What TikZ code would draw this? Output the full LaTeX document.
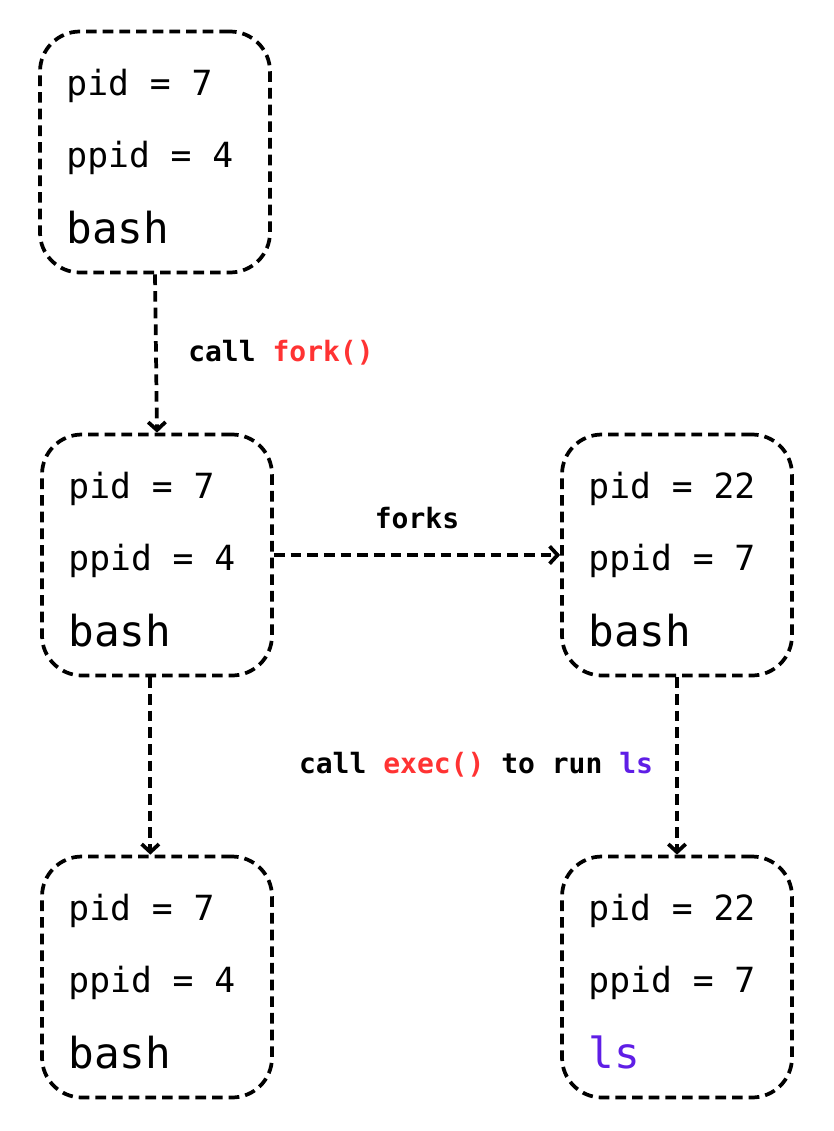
\documentclass[tikz,border=0pt]{standalone}
\usepackage{fontspec}
\setmonofont{DejaVu Sans Mono}
\usetikzlibrary{arrows.meta,positioning}
\definecolor{callred}{RGB}{255,51,51}
\definecolor{cmdpurple}{RGB}{95,30,230}
\tikzset{
  proc/.style={draw,line width=2.8pt,dash pattern=on 8pt off 4.5pt,rounded corners=30pt,
    minimum width=172.5pt,minimum height=180.75pt},
  info/.style={anchor=base west,inner sep=0pt,font=\ttfamily\fontsize{26}{30}\selectfont},
  cmd/.style={anchor=base west,inner sep=0pt,font=\ttfamily\fontsize{32}{38}\selectfont},
  lbl/.style={inner sep=0pt,font=\ttfamily\bfseries\fontsize{21}{25}\selectfont},
  flow/.style={line width=2.8pt,dash pattern=on 8pt off 4.5pt,-{Straight Barb[length=6pt,width=13pt,line width=2.8pt]}}
}
\begin{document}
\begin{tikzpicture}[x=0.75pt,y=-0.75pt]
  \useasboundingbox (0,0) rectangle (833,1131);
  % process boxes
  \node[proc] (bashA) at (155,152) {};
  \node[proc] (bashB) at (157,555) {};
  \node[proc] (bashC) at (677,555) {};
  \node[proc] (bashD) at (157,977) {};
  \node[proc] (lsE) at (677,977) {};
  % contents
  \node[info] (pidA) at ([shift={(28,66)}]bashA.north west) {pid = 7};
  \node[info] (ppidA) at ([shift={(28,138)}]bashA.north west) {ppid = 4};
  \node[cmd] (cmdA) at ([shift={(28,214)}]bashA.north west) {bash};
  \node[info] (pidB) at ([shift={(28,66)}]bashB.north west) {pid = 7};
  \node[info] (ppidB) at ([shift={(28,138)}]bashB.north west) {ppid = 4};
  \node[cmd] (cmdB) at ([shift={(28,214)}]bashB.north west) {bash};
  \node[info] (pidC) at ([shift={(28,66)}]bashC.north west) {pid = 22};
  \node[info] (ppidC) at ([shift={(28,138)}]bashC.north west) {ppid = 7};
  \node[cmd] (cmdC) at ([shift={(28,214)}]bashC.north west) {bash};
  \node[info] (pidD) at ([shift={(28,66)}]bashD.north west) {pid = 7};
  \node[info] (ppidD) at ([shift={(28,138)}]bashD.north west) {ppid = 4};
  \node[cmd] (cmdD) at ([shift={(28,214)}]bashD.north west) {bash};
  \node[info] (pidE) at ([shift={(28,66)}]lsE.north west) {pid = 22};
  \node[info] (ppidE) at ([shift={(28,138)}]lsE.north west) {ppid = 7};
  \node[cmd,text=cmdpurple] (cmdE) at ([shift={(28,214)}]lsE.north west) {ls};
  % arrows
  \draw[flow] (bashA.south) -- (bashB.north);
  \draw[flow] (bashB.east) -- (bashC.west);
  \draw[flow] ([xshift=-5pt]bashB.south) -- ([xshift=-5pt]bashD.north);
  \draw[flow] (bashC.south) -- (lsE.north);
  % labels
  \node[lbl] (forkcall) at (281,353) {call \textcolor{callred}{fork()}};
  \node[lbl] (forks) at (417,518) {forks};
  \node[lbl] (execcall) at (476,765) {call \textcolor{callred}{exec()} to run \textcolor{cmdpurple}{ls}};
\end{tikzpicture}
\end{document}
